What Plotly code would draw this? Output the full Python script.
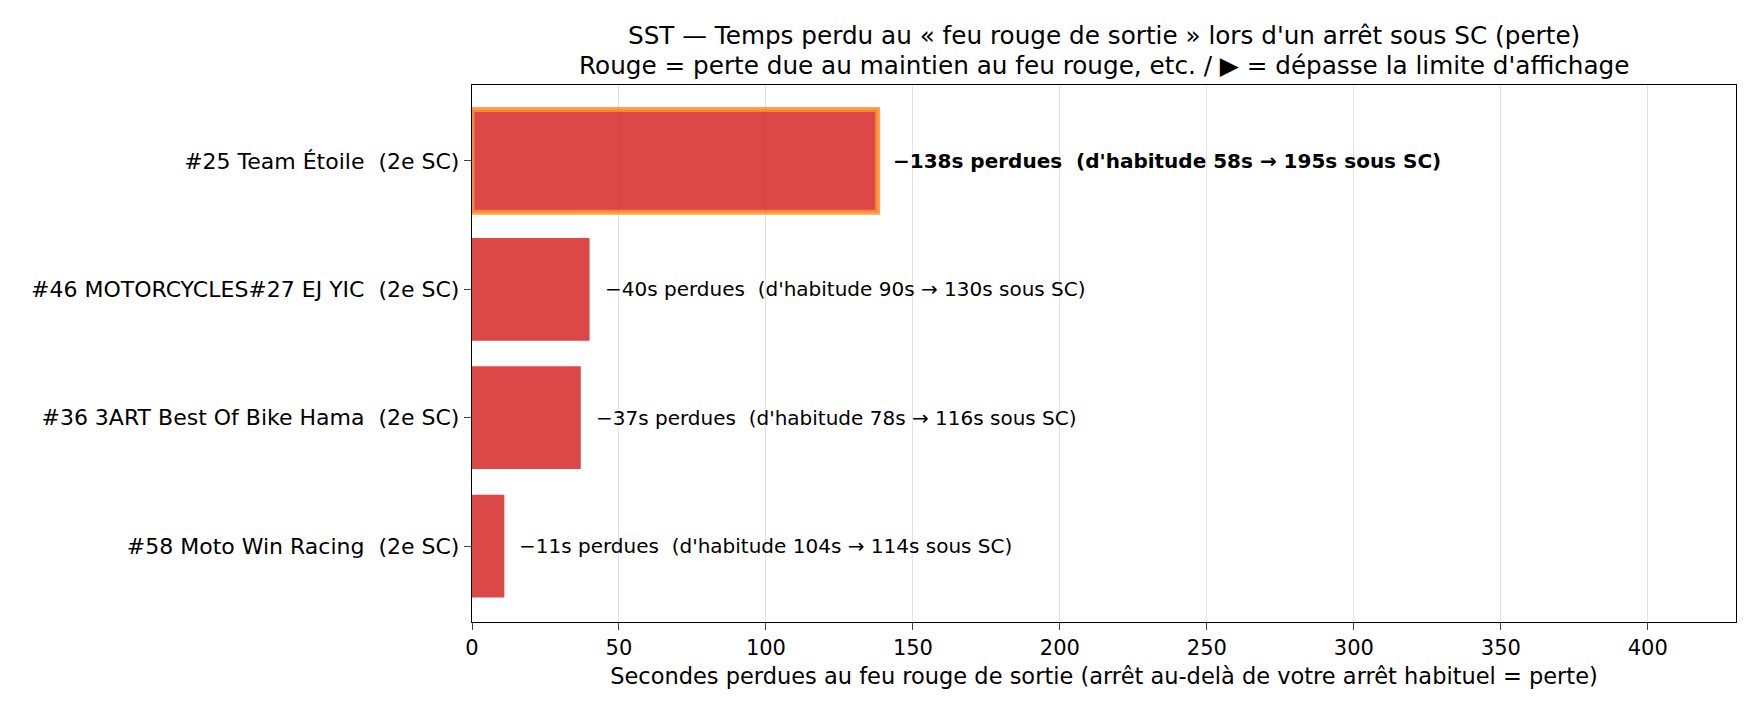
import plotly.graph_objects as go

# Données
equipes = [
    "#25 Team Étoile",
    "#46 MOTORCYCLES#27 EJ YIC",
    "#36 3ART Best Of Bike Hama",
    "#58 Moto Win Racing",
]
sc_label = "(2e SC)"
perte = [138, 40, 37, 11]
habituel = [58, 90, 78, 104]
sous_sc = [195, 130, 116, 114]
x_ticks = [0, 50, 100, 150, 200, 250, 300, 350, 400]

FONT = "DejaVu Sans, sans-serif"
NB = "\u00a0"

ypos = list(range(len(equipes)))
ticktext = [f"{e}{NB}{NB}{sc_label}" for e in equipes]

# contour orange seulement sur la première barre
line_colors = ["rgba(255,127,14,0.85)"] + ["rgba(0,0,0,0)"] * (len(equipes) - 1)
line_widths = [5] + [0] * (len(equipes) - 1)

fig = go.Figure(go.Bar(
    x=perte,
    y=ypos,
    orientation="h",
    width=0.8,
    marker=dict(color="#d62728", opacity=0.85,
                line=dict(color=line_colors, width=line_widths)),
    hoverinfo="skip",
))

for i, (p, h, s) in enumerate(zip(perte, habituel, sous_sc)):
    txt = f"\u2212{p}s perdues{NB}{NB}(d'habitude {h}s \u2192 {s}s sous SC)"
    if i == 0:
        txt = f"<b>{txt}</b>"
    fig.add_annotation(
        x=p, y=ypos[i], text=txt, showarrow=False,
        xanchor="left", yanchor="middle", xshift=13,
        font=dict(family=FONT, size=20, color="black"),
    )

# titre sur deux lignes
titre = [
    "SST \u2014 Temps perdu au « feu rouge de sortie » lors d'un arrêt sous SC (perte)",
    "Rouge = perte due au maintien au feu rouge, etc. / \u25b6 = dépasse la limite d'affichage",
]
for ligne, dy in zip(titre, [50, 20]):
    fig.add_annotation(
        x=0.5, y=1, xref="paper", yref="paper", text=ligne, showarrow=False,
        xanchor="center", yanchor="middle", yshift=dy,
        font=dict(family=FONT, size=24.7, color="black"),
    )

fig.update_layout(
    width=1760, height=716,
    margin=dict(l=472, r=24, t=85, b=94),
    plot_bgcolor="white", paper_bgcolor="white",
    font=dict(family=FONT, size=21, color="black"),
    showlegend=False,
    xaxis=dict(
        range=[0, 430], tickvals=x_ticks, showgrid=True, gridcolor="#e3e3e3",
        gridwidth=1, zeroline=False, showline=True, linecolor="black",
        linewidth=1.3, mirror=True, ticks="outside", ticklen=7,
        tickfont=dict(size=21),
        title=dict(text="Secondes perdues au feu rouge de sortie (arrêt au-delà de votre arrêt habituel = perte)",
                   font=dict(size=22.5), standoff=8),
    ),
    yaxis=dict(
        range=[3.59, -0.59], tickvals=ypos, ticktext=ticktext, showgrid=False,
        zeroline=False, showline=True, linecolor="black", linewidth=1.3,
        mirror=True, ticks="outside", ticklen=7, tickfont=dict(size=22),
    ),
)

fig.write_html("out.html", config={"displayModeBar": False},
               post_script="document.body.style.margin='0';")
